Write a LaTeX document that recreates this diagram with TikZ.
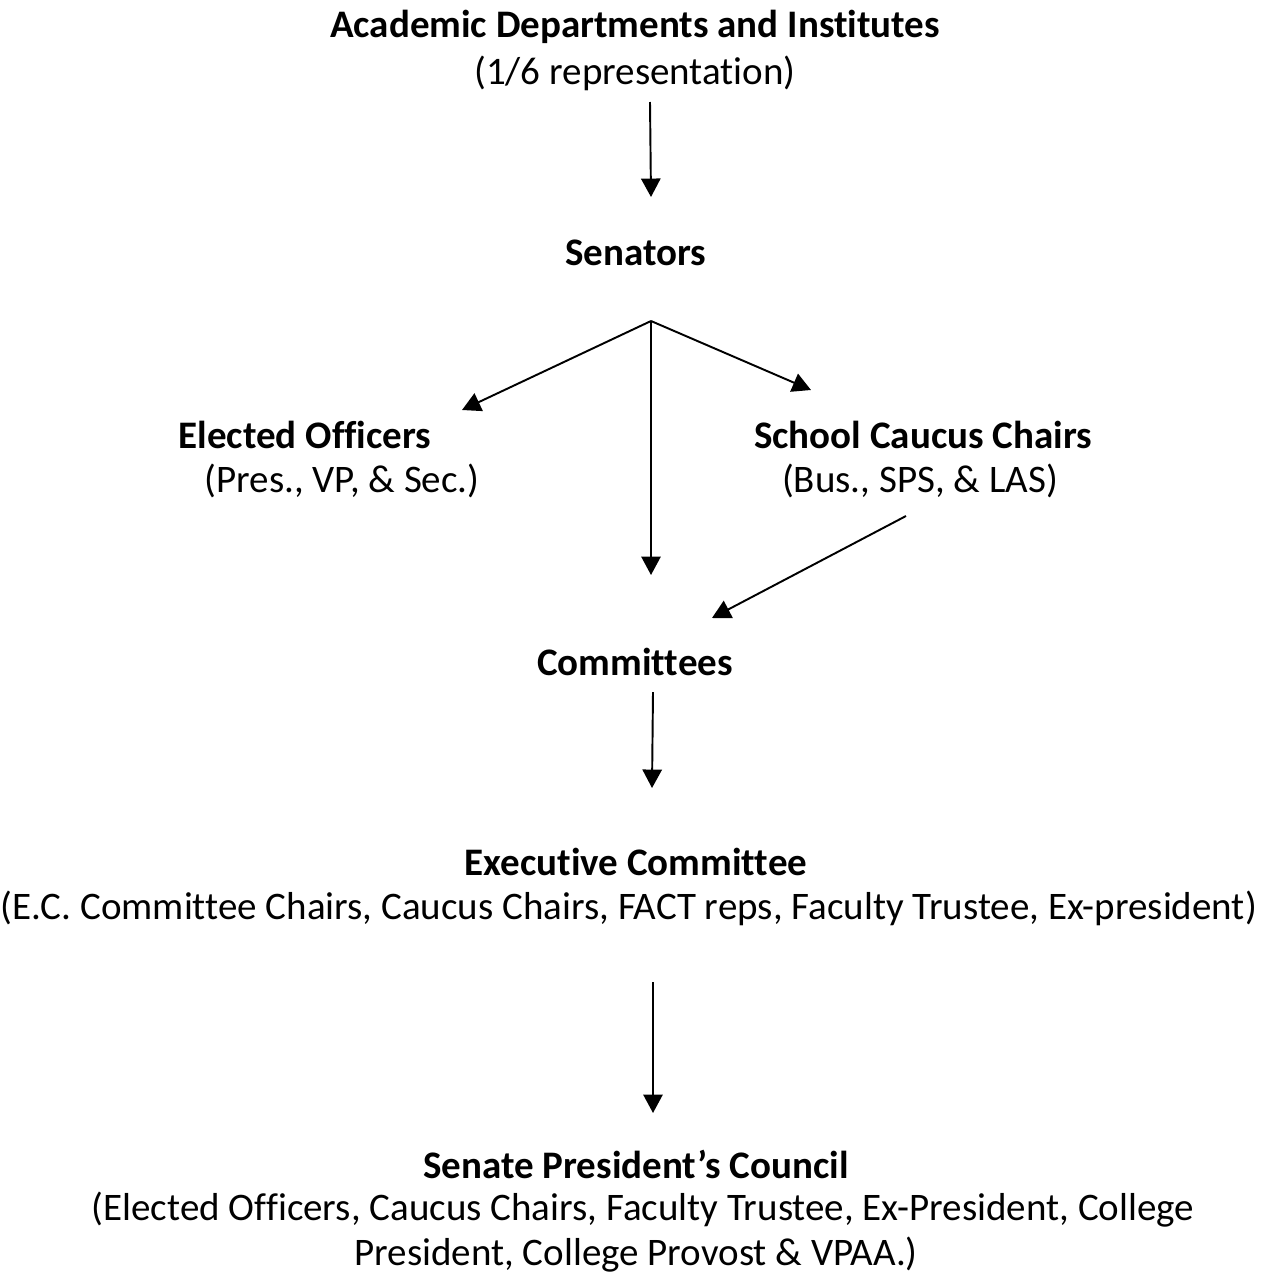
\documentclass[tikz,border=0pt]{standalone}
\usepackage{fontspec}
\setmainfont[Ligatures={NoCommon}]{Carlito}
\usetikzlibrary{arrows.meta}
\begin{document}
\begin{tikzpicture}[x=0.02cm,y=-0.02cm,
  lbl/.style={inner sep=0pt, font=\fontsize{22.2}{26}\selectfont, anchor=center},
  hd/.style={lbl, font=\fontsize{22.2}{26}\selectfont\bfseries},
  arr/.style={line width=1.1pt, -{Triangle[length=10.5pt,width=11pt]}},
  ln/.style={line width=1.1pt}]
\useasboundingbox (0,0) rectangle (1273,1275);
% texts
\node[hd] (acad) at (635,27) {Academic Departments and Institutes};
\node[lbl] (acadsub) at (635,73) {(1/6 representation)};
\node[hd] (sen) at (636,253) {Senators};
\node[hd] (elect) at (305,435) {Elected Officers};
\node[lbl] (electsub) at (342,481) {(Pres., VP, \& Sec.)};
\node[hd] (school) at (923,435) {School Caucus Chairs};
\node[lbl] (schoolsub) at (920,481) {(Bus., SPS, \& LAS)};
\node[hd] (comm) at (635,662) {Committees};
\node[hd] (exec) at (636,862) {Executive Committee};
\node[lbl] (execsub) at (629,908) {(E.C. Committee Chairs, Caucus Chairs, FACT reps, Faculty Trustee, Ex-president)};
\node[hd] (spc) at (636,1164) {Senate President’s Council};
\node[lbl] (spcsub1) at (643,1210) {(Elected Officers, Caucus Chairs, Faculty Trustee, Ex-President, College};
\node[lbl] (spcsub2) at (636,1255) {President, College Provost \& VPAA.)};
% connector end points
\coordinate (a1s) at (650,102);
\coordinate (a1e) at (651,197);
\coordinate (j) at (651,321);
\coordinate (jl) at (462,410);
\coordinate (jm) at (651,575);
\coordinate (jr) at (811,390);
\coordinate (scs) at (906,516);
\coordinate (sce) at (712,618);
\coordinate (c2s) at (653,692);
\coordinate (c2e) at (652,788);
\coordinate (e2s) at (653,982);
\coordinate (e2e) at (653,1113);
% connectors
\draw[arr] (a1s) -- (a1e);
\draw[arr] (j) -- (jl);
\draw[arr] (j) -- (jm);
\draw[arr] (j) -- (jr);
\draw[arr] (scs) -- (sce);
\draw[arr] (c2s) -- (c2e);
\draw[arr] (e2s) -- (e2e);
\end{tikzpicture}
\end{document}
